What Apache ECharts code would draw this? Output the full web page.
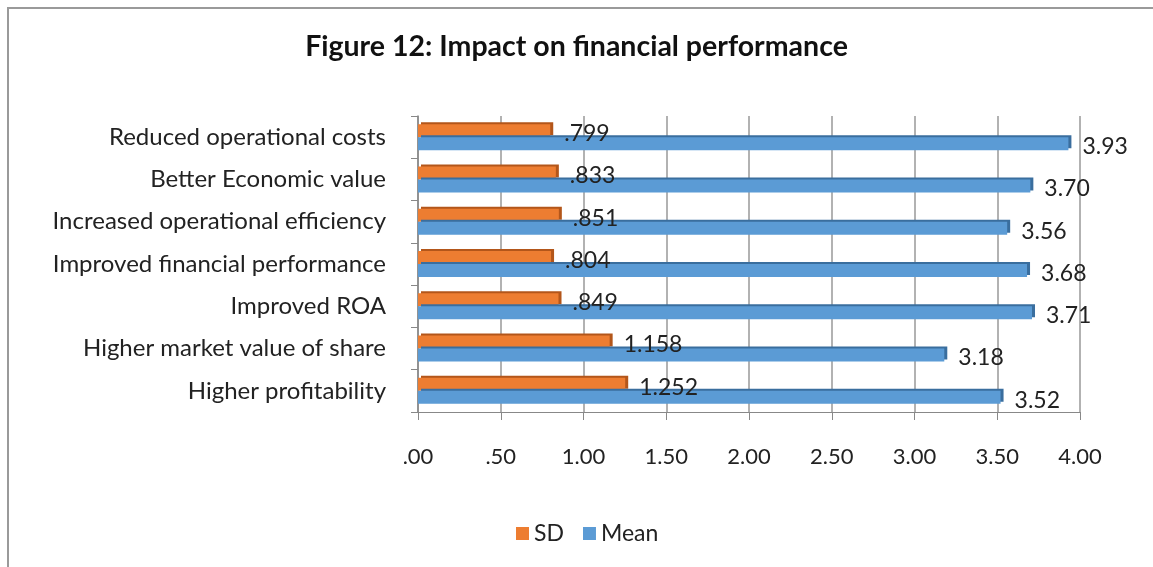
<!DOCTYPE html>
<html>
<head>
<meta charset="utf-8">
<script src="https://cdn.jsdelivr.net/npm/echarts@6/dist/echarts.min.js"></script>
<style>
  html, body { margin: 0; padding: 0; background: #fff; }
  #chart { width: 1153px; height: 567px; }
</style>
</head>
<body>
<div id="chart"></div>
<script>
const categories = [
  'Reduced operational costs',
  'Better Economic value',
  'Increased operational efficiency',
  'Improved financial performance',
  'Improved ROA',
  'Higher market value of share',
  'Higher profitability'
]
const sdValues = [0.799, 0.833, 0.851, 0.804, 0.849, 1.158, 1.252]
const meanValues = [3.93, 3.70, 3.56, 3.68, 3.71, 3.18, 3.52]

// ".799", "1.158" style: drop the leading zero like SPSS/Excel output
const noLeadZero = (s) => s.replace(/^0\./, '.')

const chart = echarts.init(document.getElementById('chart'))

const font = 'Lato, "Open Sans", sans-serif'

const option = {
  animation: false,
  textStyle: { fontFamily: font },
  title: {
    text: 'Figure 12: Impact on financial performance',
    left: 'center',
    top: 27,
    textStyle: { fontSize: 28.5, fontWeight: 'bold', color: '#111', fontFamily: font }
  },
  legend: {
    top: 517,
    left: 511,
    itemWidth: 13,
    itemHeight: 13,
    itemGap: 19,
    icon: 'rect',
    textStyle: { fontSize: 23, color: '#222' },
    data: ['SD', 'Mean']
  },
  grid: {
    left: 418,
    right: 73,
    top: 116,
    height: 296
  },
  xAxis: {
    type: 'value',
    min: 0,
    max: 4,
    interval: 0.5,
    axisLine: { show: true, lineStyle: { color: '#888' } },
    axisTick: { show: true, length: 8, lineStyle: { color: '#888' } },
    splitLine: { show: true, lineStyle: { color: '#999', width: 1.5 } },
    axisLabel: {
      margin: 34,
      fontSize: 22,
      color: '#222',
      formatter: (v) => noLeadZero(v.toFixed(2))
    }
  },
  yAxis: {
    type: 'category',
    data: categories,
    inverse: true,
    axisLine: { show: true, lineStyle: { color: '#888', width: 1.5 } },
    axisTick: { show: true, length: 7, lineStyle: { color: '#888' } },
    axisLabel: { fontSize: 24, color: '#222', margin: 32, padding: [6, 0, 0, 0] }
  },
  series: [
    {
      name: 'SD',
      type: 'bar',
      data: sdValues,
      barWidth: 13,
      barGap: '0%',
      itemStyle: {
        color: '#ED7D31',
        shadowColor: '#B3561A',
        shadowOffsetX: 3,
        shadowOffsetY: -2,
        shadowBlur: 0
      },
      label: {
        show: true,
        position: 'right',
        distance: 14,
        offset: [0, 3],
        fontSize: 23,
        color: '#222',
        formatter: (p) => noLeadZero(p.value.toFixed(3))
      }
    },
    {
      name: 'Mean',
      type: 'bar',
      data: meanValues,
      barWidth: 13,
      itemStyle: {
        color: '#5B9BD5',
        shadowColor: '#3A6E9E',
        shadowOffsetX: 3,
        shadowOffsetY: -2,
        shadowBlur: 0
      },
      label: {
        show: true,
        position: 'right',
        distance: 14,
        offset: [0, 3],
        fontSize: 23,
        color: '#222',
        formatter: (p) => p.value.toFixed(2)
      }
    }
  ],
  graphic: [
    {
      type: 'polyline',
      shape: { points: [[8, 567], [8, 8], [1153, 8]] },
      style: { fill: 'none', stroke: '#9a9a9a', lineWidth: 2 },
      silent: true
    }
  ]
}

chart.setOption(option)
</script>
</body>
</html>
